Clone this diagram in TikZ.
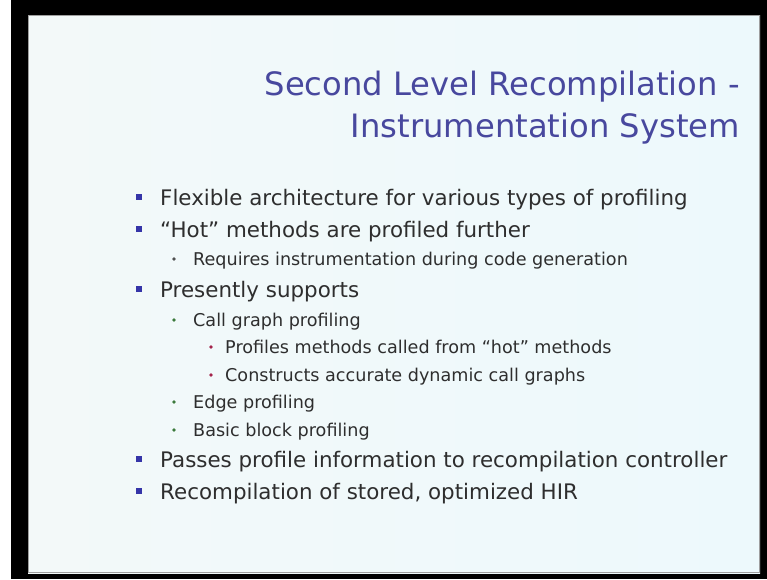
\documentclass[tikz,border=0pt]{standalone}
\usepackage{fontspec}
\setmainfont{DejaVu Sans}
\usetikzlibrary{positioning}
\definecolor{slideleft}{HTML}{F3F9F9}
\definecolor{slideright}{HTML}{EDF9FC}
\definecolor{titleblue}{HTML}{48489E}
\definecolor{bodytext}{HTML}{2E2E2E}
\definecolor{bulblue}{HTML}{3535A8}
\definecolor{bulgreen}{HTML}{3C7A3C}
\definecolor{bulred}{HTML}{A3234A}
\definecolor{bulgray}{HTML}{505050}

\begin{document}
\begin{tikzpicture}[x=1pt, y=-1pt,
    titletext/.style={anchor=base east, inner sep=0pt, text=titleblue, font=\fontsize{32.2}{38}\selectfont},
    lvlone/.style={anchor=base west, inner sep=0pt, text=bodytext, font=\fontsize{21.4}{25}\selectfont},
    lvltwo/.style={anchor=base west, inner sep=0pt, text=bodytext, font=\fontsize{17.6}{21}\selectfont},
    sqbullet/.style={fill=bulblue, minimum size=6.8pt, inner sep=0pt},
    dotbullet/.style={circle, fill=#1, minimum size=3.8pt, inner sep=0pt}]
    % Frame
    \useasboundingbox (0,0) rectangle (767,579);
    \fill[white] (0,0) rectangle (767,579);
    \fill[black] (11,0) rectangle (767,579);
    \shade[left color=slideleft, right color=slideright] (28,15) rectangle (760,573);
    \draw[gray!75, line width=1.2pt] (28.6,15.6) rectangle (759.4,572.4);

    % Title
    \node[titletext] (title1) at (740,95) {Second Level Recompilation -};
    \node[titletext] (title2) at (740,137) {Instrumentation System};

    % First level
    \node[sqbullet] (b1) at (139,197) {};
    \node[lvlone] (t1) at (160,205) {Flexible architecture for various types of profiling};
    \node[sqbullet] (b2) at (139,229) {};
    \node[lvlone] (t2) at (160,237) {“Hot” methods are profiled further};

    % Second level
    \node[dotbullet=bulgray] (b21) at (174,259) {};
    \node[lvltwo] (t21) at (193,265) {Requires instrumentation during code generation};

    \node[sqbullet] (b3) at (139,289) {};
    \node[lvlone] (t3) at (160,297) {Presently supports};
    \node[dotbullet=bulgreen] (b31) at (174,320) {};
    \node[lvltwo] (t31) at (193,326) {Call graph profiling};

    % Third level
    \node[dotbullet=bulred] (b311) at (211,347) {};
    \node[lvltwo] (t311) at (225,353) {Profiles methods called from “hot” methods};
    \node[dotbullet=bulred] (b312) at (211,375) {};
    \node[lvltwo] (t312) at (225,381) {Constructs accurate dynamic call graphs};

    \node[dotbullet=bulgreen] (b32) at (174,402) {};
    \node[lvltwo] (t32) at (193,408) {Edge profiling};
    \node[dotbullet=bulgreen] (b33) at (174,430) {};
    \node[lvltwo] (t33) at (193,436) {Basic block profiling};

    % Last items
    \node[sqbullet] (b4) at (139,459) {};
    \node[lvlone] (t4) at (160,467) {Passes profile information to recompilation controller};
    \node[sqbullet] (b5) at (139,491) {};
    \node[lvlone] (t5) at (160,499) {Recompilation of stored, optimized HIR};
\end{tikzpicture}
\end{document}
